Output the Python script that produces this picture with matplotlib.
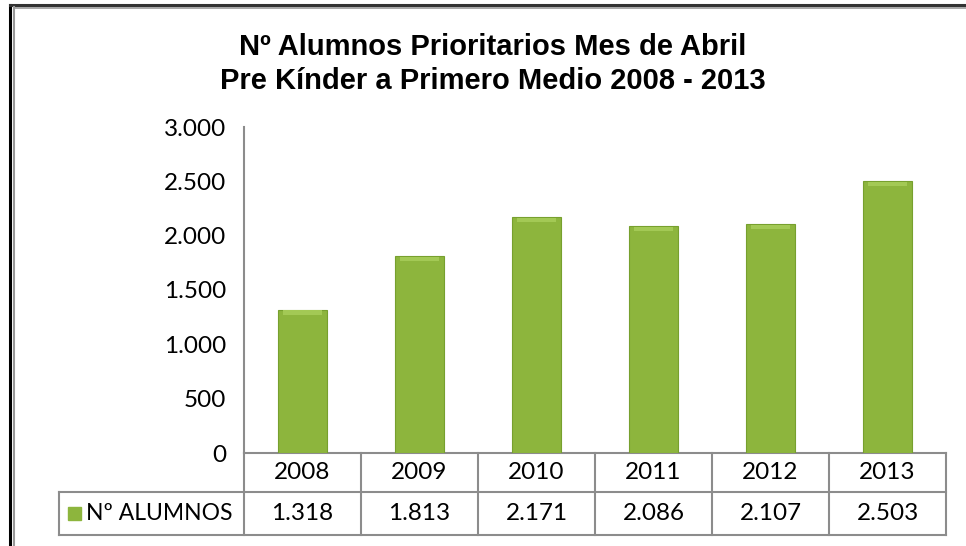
import matplotlib
matplotlib.use("Agg")
import matplotlib.pyplot as plt
from matplotlib.transforms import blended_transform_factory
from matplotlib.lines import Line2D

years = ["2008", "2009", "2010", "2011", "2012", "2013"]
alumnos = [1318, 1813, 2171, 2086, 2107, 2503]
value_labels = ["1.318", "1.813", "2.171", "2.086", "2.107", "2.503"]
yticks = [0, 500, 1000, 1500, 2000, 2500, 3000]
ytick_labels = ["0", "500", "1.000", "1.500", "2.000", "2.500", "3.000"]
series_name = "Nº ALUMNOS"
title = "Nº Alumnos Prioritarios Mes de Abril\nPre Kínder a Primero Medio 2008 - 2013"

W, H = 966, 546
fig = plt.figure(figsize=(W / 100, H / 100), dpi=100)

ax_l, ax_r, ax_t, ax_b = 244, 946, 127, 453
ax = fig.add_axes([ax_l / W, 1 - ax_b / H, (ax_r - ax_l) / W, (ax_b - ax_t) / H])

grey = "#8c8c8c"
tick_font = "Lato"
fs = 17.5
x = list(range(len(years)))
ax.bar(x, alumnos, width=0.42, color="#8DB53D", edgecolor="#77A02E", linewidth=0.8, zorder=3)
# lighter bevel top strip
ax.bar(x, [40 for _ in alumnos], bottom=[v - 45 for v in alumnos], width=0.34,
       color="#A3C955", linewidth=0, zorder=4)

ax.set_xlim(-0.5, len(years) - 0.5)
ax.set_ylim(0, 3000)
ax.set_yticks(yticks)
ax.set_yticklabels(ytick_labels, fontsize=fs, fontfamily=tick_font)
ax.set_xticks([])
ax.tick_params(axis="y", length=0, pad=13)
for s in ["top", "right", "bottom"]:
    ax.spines[s].set_visible(False)
ax.spines["left"].set_color(grey)
ax.spines["left"].set_linewidth(1.5)

# Data table below axes
axh = ax_b - ax_t
r1 = (492 - ax_b) / axh
r2 = (535 - ax_b) / axh
trans = blended_transform_factory(ax.transData, ax.transAxes)
n = len(years)
unit_px = (ax_r - ax_l) / n
leg_left = -0.5 - (ax_l - 59) / unit_px

def hline(x0, x1, y):
    ax.add_line(Line2D([x0, x1], [y, y], transform=trans, color=grey, lw=1.5, clip_on=False))

def vline(xx, y0, y1):
    ax.add_line(Line2D([xx, xx], [y0, y1], transform=trans, color=grey, lw=1.5, clip_on=False))

hline(-0.5, n - 0.5, 0)
hline(leg_left, n - 0.5, -r1)
hline(leg_left, n - 0.5, -r2)
for i in range(n + 1):
    vline(i - 0.5, 0, -r2)
vline(leg_left, -r1, -r2)

for i, (yr, lab) in enumerate(zip(years, value_labels)):
    ax.text(i, -r1 / 2, yr, transform=trans, ha="center", va="center", fontsize=fs,
            fontfamily=tick_font)
    ax.text(i, -(r1 + r2) / 2, lab, transform=trans, ha="center", va="center", fontsize=fs,
            fontfamily=tick_font)

# legend cell
ax.add_patch(plt.Rectangle((leg_left + 9 / unit_px, -(r1 + r2) / 2 - 6.5 / axh), 13 / unit_px, 13 / axh,
                           transform=trans, color="#8DB53D", clip_on=False))
ax.text(leg_left + 27 / unit_px, -(r1 + r2) / 2, series_name, transform=trans, ha="left", va="center",
        fontsize=16.5, fontfamily=tick_font)

fig.text(493 / W, 1 - 64 / H, title, ha="center", va="center", fontsize=21,
         fontweight="bold", fontfamily="Liberation Sans", linespacing=1.3)

# outer border (left and top)
fig.add_artist(Line2D([10 / W, 10 / W], [0, 1 - 5 / H], transform=fig.transFigure, color="black", lw=2.2))
fig.add_artist(Line2D([10 / W, 1], [1 - 5 / H, 1 - 5 / H], transform=fig.transFigure, color="#333333", lw=2.2))
fig.add_artist(Line2D([13.5 / W, 13.5 / W], [0, 1 - 7 / H], transform=fig.transFigure, color="#999999", lw=1.5))
fig.add_artist(Line2D([13.5 / W, 1], [1 - 7.5 / H, 1 - 7.5 / H], transform=fig.transFigure, color="#999999", lw=1.2))

fig.savefig("out.png", dpi=100)
